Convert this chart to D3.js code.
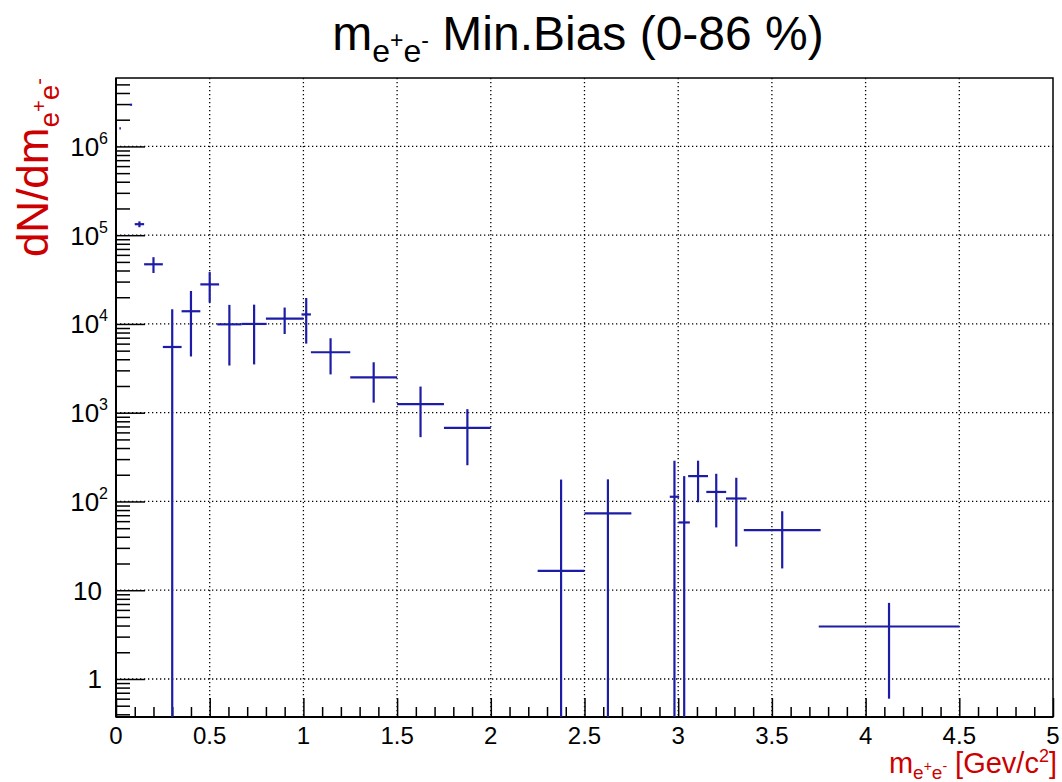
<!DOCTYPE html>
<html>
<head>
<meta charset="utf-8">
<script src="https://cdn.jsdelivr.net/npm/d3@7"></script>
<style>
  html, body { margin: 0; padding: 0; background: #fff; }
  svg { display: block; }
  text { font-family: "Liberation Sans", Arial, Helvetica, sans-serif; }
</style>
</head>
<body>
<svg id="chart" width="1062" height="782"></svg>
<script>
// ---- data ----
const xCenter = [0.022, 0.08, 0.125, 0.2, 0.3, 0.4, 0.5, 0.605, 0.737, 0.9, 1.015, 1.145, 1.375, 1.625, 1.875, 2.375, 2.625, 2.98, 3.032, 3.106, 3.203, 3.31, 3.555, 4.125];
const xHalfWidth = [0.004, 0.006, 0.025, 0.05, 0.05, 0.05, 0.05, 0.065, 0.067, 0.1, 0.025, 0.105, 0.125, 0.125, 0.125, 0.125, 0.125, 0.025, 0.03, 0.053, 0.053, 0.055, 0.205, 0.375];
const yValue = [1.6e6, 2.95e6, 1.33e5, 4.7e4, 5.5e3, 1.39e4, 2.79e4, 9.9e3, 1.0e4, 1.15e4, 1.28e4, 4.8e3, 2.5e3, 1.25e3, 676, 16.5, 73.5, 113, 58, 193, 128, 108, 47.6, 3.9];
const yError = [0, 0, 1.0e4, 9.5e3, 9.1e3, 9.6e3, 1.05e4, 6.5e3, 6.5e3, 3.8e3, 6.8e3, 2.1e3, 1.2e3, 720, 420, 160, 104, 174, 135, 95, 77, 77, 30, 3.3];

const xTickValues = [0, 0.5, 1, 1.5, 2, 2.5, 3, 3.5, 4, 4.5, 5];
const xTickLabels = ["0", "0.5", "1", "1.5", "2", "2.5", "3", "3.5", "4", "4.5", "5"];
const yDecades = [1, 10, 100, 1000, 10000, 100000, 1000000];
const yTickBase = ["1", "10", "10", "10", "10", "10", "10"];
const yTickExp = ["", "", "2", "3", "4", "5", "6"];

const xDomain = [0, 5];
const yDomain = [0.373, 5.9e6];

// ---- layout ----
const L = 116, R = 1053, T = 78, B = 717;
const blue = "#1c1ca6", red = "#cc0000";
const svg = d3.select("#chart");

const x = d3.scaleLinear().domain(xDomain).range([L, R]);
const y = d3.scaleLog().domain(yDomain).range([B, T]).clamp(true);

// grid
const grid = svg.append("g").attr("stroke", "#000").attr("stroke-width", 1.3).attr("stroke-dasharray", "1.3,2.7");
grid.selectAll("line.gx").data(xTickValues.filter(v => v > 0 && v < 5)).enter().append("line")
  .attr("x1", d => x(d)).attr("x2", d => x(d)).attr("y1", T).attr("y2", B);
grid.selectAll("line.gy").data(yDecades).enter().append("line")
  .attr("x1", L).attr("x2", R).attr("y1", d => y(d)).attr("y2", d => y(d));

// minor ticks
const yMinor = [];
for (let e = -1; e <= 6; e++) for (let m = 2; m <= 9; m++) {
  const v = m * Math.pow(10, e);
  if (v >= yDomain[0] && v <= yDomain[1]) yMinor.push(v);
}
const xMinor = d3.range(0, 51).map(i => i / 10).filter(v => Math.abs(v * 2 - Math.round(v * 2)) > 1e-6);

const yAxisMinor = d3.axisLeft(y).tickValues(yMinor).tickSize(-14).tickFormat("");
const yAxisMajor = d3.axisLeft(y).tickValues(yDecades).tickSize(-29).tickFormat("");
const xAxisMinor = d3.axisBottom(x).tickValues(xMinor).tickSize(-10).tickFormat("");
const xAxisMajor = d3.axisBottom(x).tickValues(xTickValues).tickSize(-19).tickFormat("");

function styleAxis(g) {
  g.select(".domain").remove();
  g.selectAll(".tick line").attr("stroke", "#000").attr("stroke-width", 1.5);
}
svg.append("g").attr("transform", `translate(${L},0)`).call(yAxisMinor).call(styleAxis);
svg.append("g").attr("transform", `translate(${L},0)`).call(yAxisMajor).call(styleAxis);
svg.append("g").attr("transform", `translate(0,${B})`).call(xAxisMinor).call(styleAxis);
svg.append("g").attr("transform", `translate(0,${B})`).call(xAxisMajor).call(styleAxis);

// frame
svg.append("rect").attr("x", L).attr("y", T).attr("width", R - L).attr("height", B - T)
  .attr("fill", "none").attr("stroke", "#000").attr("stroke-width", 1.5);
svg.append("line").attr("x1", L).attr("x2", L).attr("y1", T).attr("y2", B).attr("stroke", "#000").attr("stroke-width", 2);
svg.append("line").attr("x1", L).attr("x2", R).attr("y1", B).attr("y2", B).attr("stroke", "#000").attr("stroke-width", 2);

// x tick labels
svg.append("g").selectAll("text").data(xTickValues).enter().append("text")
  .attr("x", d => x(d)).attr("y", 744).attr("text-anchor", "middle")
  .attr("font-size", 24).attr("fill", "#000")
  .text((d, i) => xTickLabels[i]);

// y tick labels
const yl = svg.append("g").selectAll("text").data(yDecades).enter().append("text")
  .attr("x", (d, i) => yTickExp[i] ? 108 : 102).attr("y", d => y(d) + 9.5).attr("text-anchor", "end")
  .attr("font-size", 26).attr("fill", "#000");
yl.append("tspan").text((d, i) => yTickBase[i]);
yl.append("tspan").attr("font-size", 16).attr("dy", -12).text((d, i) => yTickExp[i]);

// data: error crosses
const idx = d3.range(xCenter.length);
const dg = svg.append("g").attr("stroke", blue).attr("stroke-width", 2.2).attr("fill", "none");
dg.selectAll("line.h").data(idx).enter().append("line")
  .attr("x1", i => x(xCenter[i] - xHalfWidth[i])).attr("x2", i => x(xCenter[i] + xHalfWidth[i]))
  .attr("y1", i => y(yValue[i])).attr("y2", i => y(yValue[i]));
dg.selectAll("line.v").data(idx.filter(i => yError[i] > 0)).enter().append("line")
  .attr("x1", i => x(xCenter[i])).attr("x2", i => x(xCenter[i]))
  .attr("y1", i => y(yValue[i] + yError[i]))
  .attr("y2", i => (yValue[i] - yError[i] > 0 ? y(yValue[i] - yError[i]) : B));

// title
const title = svg.append("text").attr("x", 578).attr("y", 50).attr("text-anchor", "middle")
  .attr("font-size", 48).attr("fill", "#000");
title.append("tspan").text("m");
title.append("tspan").attr("font-size", 32).attr("dy", 12).text("e");
title.append("tspan").attr("font-size", 23).attr("dy", -14).text("+");
title.append("tspan").attr("font-size", 32).attr("dy", 14).text("e");
title.append("tspan").attr("font-size", 23).attr("dy", -14).text("-");
title.append("tspan").attr("dy", 2).text(" Min.Bias (0-86 %)");

// y axis title
const yt = svg.append("text").attr("transform", `translate(48,${T}) rotate(-90)`)
  .attr("text-anchor", "end").attr("font-size", 44).attr("fill", red);
yt.append("tspan").text("dN/dm");
yt.append("tspan").attr("font-size", 28).attr("dy", 11).text("e");
yt.append("tspan").attr("font-size", 20).attr("dy", -13).text("+");
yt.append("tspan").attr("font-size", 28).attr("dy", 13).text("e");
yt.append("tspan").attr("font-size", 20).attr("dy", -13).text("-");

// x axis title
const xt = svg.append("text").attr("x", 1057).attr("y", 773).attr("text-anchor", "end")
  .attr("font-size", 29).attr("fill", red);
xt.append("tspan").text("m");
xt.append("tspan").attr("font-size", 19).attr("dy", 6).text("e");
xt.append("tspan").attr("font-size", 14).attr("dy", -8).text("+");
xt.append("tspan").attr("font-size", 19).attr("dy", 8).text("e");
xt.append("tspan").attr("font-size", 14).attr("dy", -8).text("-");
xt.append("tspan").attr("dy", 2).text(" [Gev/c");
xt.append("tspan").attr("font-size", 18).attr("dy", -11).text("2");
xt.append("tspan").attr("dy", 11).text("]");
</script>
</body>
</html>
